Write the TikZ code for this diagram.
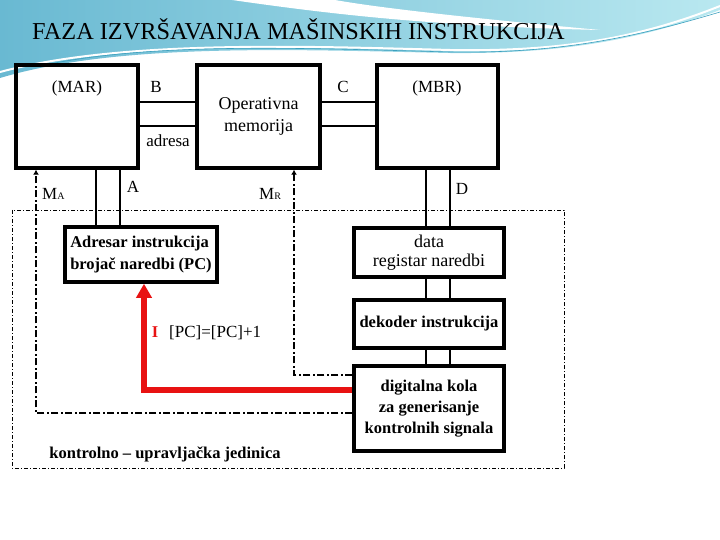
\documentclass[tikz,border=0pt]{standalone}
\usepackage{fontspec}
\setmainfont{Liberation Serif}
\usetikzlibrary{arrows.meta,positioning}
\definecolor{wavecyan}{RGB}{105,185,210}
\definecolor{wavelight}{RGB}{185,232,240}
\definecolor{waveline}{RGB}{60,160,190}
\definecolor{sigred}{RGB}{232,18,18}

\begin{document}
\begin{tikzpicture}[x=1pt,y=-1pt,box/.style={draw,line width=3.5pt,inner sep=0pt},bus/.style={line width=2.5pt},ctl/.style={line width=2pt,dash pattern=on 7pt off 2.5pt on 2pt off 2.5pt},cuframe/.style={line width=0.8pt,dash pattern=on 4pt off 2pt on 1pt off 2pt},txt/.style={font=\fontsize{17}{22}\selectfont,align=center,inner sep=0pt},btxt/.style={font=\bfseries\fontsize{16.5}{21}\selectfont,align=center,inner sep=0pt}]
\useasboundingbox(0,0)rectangle(720,540);
% pozadina
\shade[left color=wavecyan,right color=wavelight](0,0)--(720,0)--(720,10)..controls(640,40)and(560,54)..(450,53)..controls(300,50)and(120,42)..(0,78)--cycle;
\fill[white](232,0)..controls(330,14)and(430,26)..(600,30)..controls(470,18)and(380,8)..(335,0)--cycle;
\draw[white,line width=2pt](0,72)..controls(120,40)and(300,46)..(450,50)..controls(560,52)and(640,38)..(720,6);
\draw[waveline,line width=0.6pt](40,66)..controls(150,42)and(300,48)..(450,52)..controls(560,54)and(640,36)..(720,12);
% kontrolno-upravljacka jedinica
\draw[cuframe](12,210)rectangle(564,468);
\node[anchor=base west,inner sep=0pt,font=\fontsize{24.3}{24}\selectfont](title) at (32,40){FAZA IZVRŠAVANJA MAŠINSKIH INSTRUKCIJA};
\node[box,minimum width=122pt,minimum height=103pt](mar) at (77,116.5){};
\node[box,minimum width=123pt,minimum height=103pt,txt,font=\fontsize{18}{22}\selectfont](mem) at (258.5,116.5){Operativna\\memorija};
\node[box,minimum width=121pt,minimum height=103pt](mbr) at (437.5,116.5){};
\node[box,minimum width=152pt,minimum height=55pt,btxt,align=left,font=\bfseries\fontsize{16.5}{22}\selectfont](pc) at (141,254.5){Adresar instrukcija\\brojač naredbi (PC)};
\node[box,minimum width=150pt,minimum height=49pt,txt,font=\fontsize{18}{19}\selectfont](ir) at (429,252.5){data\\registar naredbi};
\node[box,minimum width=150pt,minimum height=48pt,btxt](dec) at (429,324){dekoder instrukcija};
\node[box,minimum width=150pt,minimum height=85pt,btxt](gen) at (429,408.5){digitalna kola\\za generisanje\\kontrolnih signala};
% oznake
\node[txt,anchor=base](marlbl) at (77,93){(MAR)};
\node[txt,anchor=base](mbrlbl) at (437,93){(MBR)};
\node[txt,anchor=base](blbl) at (156,93){B};
\node[txt,anchor=base](clbl) at (343,93){C};
\node[txt,anchor=base](adrlbl) at (168,147){adresa};
\node[txt,anchor=base](albl) at (133,193){A};
\node[txt,anchor=base](dlbl) at (462,195){D};
\node[txt,anchor=base west](malbl) at (42,200){M{\fontsize{10}{10}\selectfont A}};
\node[txt,anchor=base west](mrlbl) at (259,200){M{\fontsize{10}{10}\selectfont R}};
\node[btxt,anchor=base,text=sigred](ilbl) at (155,337){I};
\node[txt,anchor=base west](inclbl) at (169,337){[PC]=[PC]+1};
\node[btxt,anchor=base](culbl) at (165,458){kontrolno -- upravljačka jedinica};
% magistrale i signali
\coordinate(bA) at (0,102);\coordinate(bB) at (0,126);
\coordinate(xa1) at (96,0);\coordinate(xa2) at (120,0);\coordinate(xd1) at (426,0);\coordinate(xd2) at (450,0);
\coordinate(xma) at (36,0);\coordinate(xmr) at (294,0);\coordinate(xi) at (144,0);
\coordinate(yma) at (0,413);\coordinate(ymr) at (0,375);\coordinate(yi) at (0,390);
\foreach \b in {bA,bB}{\draw[bus](mar.east|-\b)--(mem.west|-\b);\draw[bus](mem.east|-\b)--(mbr.west|-\b);}
\foreach \x in {xa1,xa2}{\draw[bus](mar.south-|\x)--(pc.north-|\x);}
\foreach \x in {xd1,xd2}{\draw[bus](mbr.south-|\x)--(ir.north-|\x);\draw[bus](ir.south-|\x)--(dec.north-|\x);\draw[bus](dec.south-|\x)--(gen.north-|\x);}
\draw[ctl,-{Latex[length=5pt,width=6pt]}](gen.west|-yma)-|(mar.south-|xma);
\draw[ctl,-{Latex[length=5pt,width=6pt]}](gen.west|-ymr)-|(mem.south-|xmr);
\draw[line width=5.5pt,sigred,-{Triangle[length=14pt,width=15pt]}](gen.west|-yi)-|(pc.south-|xi);
\end{tikzpicture}
\end{document}
